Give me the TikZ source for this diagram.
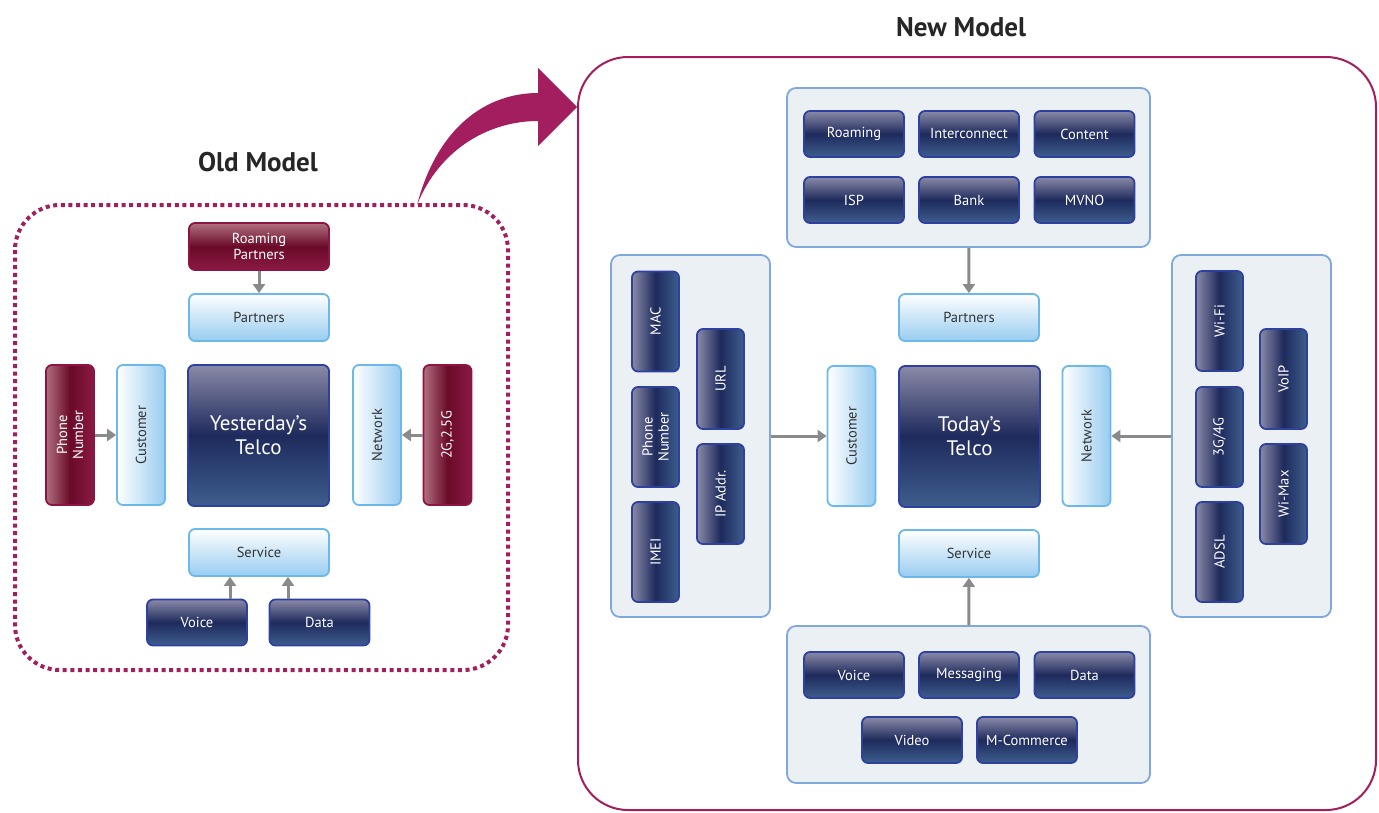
\documentclass[tikz,border=0pt]{standalone}
\usepackage{fontspec}
\setmainfont{PT Sans}
\usetikzlibrary{arrows.meta}

\definecolor{navy}{HTML}{1E2A5C}
\definecolor{navytop}{HTML}{8A8AA8}
\definecolor{navybot}{HTML}{3E5E8E}
\definecolor{navyedge}{HTML}{2E40A0}
\definecolor{wine}{HTML}{6A0A28}
\definecolor{winetop}{HTML}{B07080}
\definecolor{winebot}{HTML}{8A1A44}
\definecolor{wineedge}{HTML}{8E1444}
\definecolor{skyedge}{HTML}{6CB8EA}
\definecolor{skybot}{HTML}{98CCF0}
\definecolor{panelfill}{HTML}{EBF0F5}
\definecolor{paneledge}{HTML}{80A8DA}
\definecolor{plum}{HTML}{A21E5E}
\definecolor{arrgray}{HTML}{8A8A8A}

\begin{document}
\begin{tikzpicture}[x=1pt, y=-1pt,
  label/.style={font=\fontsize{14.5}{16}\selectfont, align=center, inner sep=0pt},
  darkbox/.style={label, draw=navyedge, line width=1.8pt, rounded corners=6pt,
    top color=navytop, bottom color=navybot, middle color=navy, text=white},
  darkside/.style={label, draw=navyedge, line width=1.8pt, rounded corners=6pt,
    left color=navytop, right color=navybot, middle color=navy, text=white},
  winebox/.style={label, draw=wineedge, line width=1.8pt, rounded corners=6pt,
    left color=winetop, right color=winebot, middle color=wine, text=white},
  wineflat/.style={label, draw=wineedge, line width=1.8pt, rounded corners=6pt,
    top color=winetop, bottom color=winebot, middle color=wine, text=white},
  skybox/.style={label, draw=skyedge, line width=1.8pt, rounded corners=6pt,
    top color=white, bottom color=skybot, text=black!80},
  skyside/.style={label, draw=skyedge, line width=1.8pt, rounded corners=6pt,
    left color=white, right color=skybot, text=black!80},
  telco/.style={darkbox, minimum width=141pt, minimum height=141pt,
    font=\fontsize{21}{24}\selectfont},
  panel/.style={draw=paneledge, fill=panelfill, line width=1.8pt, rounded corners=9pt},
  wide/.style={minimum width=140pt, minimum height=47pt},
  small/.style={minimum width=100pt, minimum height=46pt},
  tall/.style={rotate=90, minimum width=140pt, minimum height=48pt},
  slim/.style={rotate=90, minimum width=100pt, minimum height=47pt},
  arr/.style={draw=arrgray, line width=3pt, -{Triangle[length=9pt,width=12pt]}},
  title/.style={font=\fontsize{27}{30}\selectfont\bfseries, text=black!85}]
\useasboundingbox (0,0) rectangle (1379,812);

% Old model
\draw[plum, line width=4pt, dash pattern=on 4pt off 3.6pt, rounded corners=45pt]
  (15,205) rectangle (508,670);
\node[title] (oldtitle) at (258,162) {Old Model};

\node[wineflat, wide] (oldroam) at (259,246.5) {Roaming\\Partners};
\node[skybox, wide] (oldpart) at (259,317.5) {Partners};
\node[winebox, tall] (oldphone) at (70,435) {Phone\\Number};
\node[skyside, tall] (oldcust) at (141,435) {Customer};
\node[telco] (oldtelco) at (258.5,435.5) {Yesterday’s\\Telco};
\node[skyside, tall] (oldnet) at (377,435) {Network};
\node[winebox, tall] (oldgen) at (447.5,435) {2G,2.5G};
\node[skybox, wide] (oldserv) at (259,552.5) {Service};
\node[darkbox, small] (oldvoice) at (197,622.5) {Voice};
\node[darkbox, small] (olddata) at (319.5,622.5) {Data};

\draw[arr] (oldroam) -- (oldpart);
\draw[arr] (oldphone) -- (oldcust);
\draw[arr] (oldgen) -- (oldnet);
\draw[arr] ([xshift=33pt]oldvoice.north) -- ([xshift=33pt]oldvoice.north |- oldserv.south);
\draw[arr] ([xshift=-31.5pt]olddata.north) -- ([xshift=-31.5pt]olddata.north |- oldserv.south);

% Big curved arrow from old to new
\fill[plum] (417,205) .. controls (438,125) and (488,93) .. (538,93) -- (538,68) -- (577,107)
  -- (538,146) -- (538,121) .. controls (490,121) and (440,148) .. (417,205) -- cycle;

% New model
\draw[plum, line width=2pt, rounded corners=50pt] (578,57) rectangle (1376,810);
\node[title] (newtitle) at (961,27) {New Model};

% partners panel
\node[panel, minimum width=363pt, minimum height=159pt] (toppanel) at (968.5,167.5) {};
\node[darkbox, small] (roam) at (854,134) {Roaming};
\node[darkbox, small] (inter) at (969,134) {Interconnect};
\node[darkbox, small] (content) at (1084.5,134) {Content};
\node[darkbox, small] (isp) at (854,200) {ISP};
\node[darkbox, small] (bank) at (969,200) {Bank};
\node[darkbox, small] (mvno) at (1084.5,200) {MVNO};

% customer panel
\node[panel, minimum width=159pt, minimum height=362pt] (leftpanel) at (690.5,436) {};
\node[darkside, slim] (mac) at (655.5,321.5) {MAC};
\node[darkside, slim] (phone) at (655.5,437) {Phone\\Number};
\node[darkside, slim] (imei) at (655.5,552) {IMEI};
\node[darkside, slim] (url) at (720.5,379) {URL};
\node[darkside, slim] (ipaddr) at (720.5,494) {IP Addr.};

% network panel
\node[panel, minimum width=159pt, minimum height=362pt] (rightpanel) at (1251.5,436) {};
\node[darkside, slim] (wifi) at (1219.5,321) {Wi-Fi};
\node[darkside, slim] (mobile) at (1219.5,437) {3G/4G};
\node[darkside, slim] (adsl) at (1219.5,552) {ADSL};
\node[darkside, slim] (voip) at (1283.5,379) {VoIP};
\node[darkside, slim] (wimax) at (1283.5,494) {Wi-Max};

% service panel
\node[panel, minimum width=363pt, minimum height=157pt] (botpanel) at (968.5,704.5) {};
\node[darkbox, small] (voice) at (854,675) {Voice};
\node[darkbox, small] (msg) at (969,675) {Messaging};
\node[darkbox, small] (data) at (1084.5,675) {Data};
\node[darkbox, small] (video) at (912,740) {Video};
\node[darkbox, small] (mcomm) at (1027,740) {M-Commerce};

% centre
\node[skybox, wide] (newpart) at (969,317.5) {Partners};
\node[skyside, tall] (newcust) at (851.5,436) {Customer};
\node[telco] (newtelco) at (969.5,436.5) {Today’s\\Telco};
\node[skyside, tall] (newnet) at (1086.5,436) {Network};
\node[skybox, wide] (newserv) at (969,553.5) {Service};

\draw[arr] (toppanel) -- (newpart);
\draw[arr] (botpanel) -- (newserv);
\draw[arr] (leftpanel) -- (newcust);
\draw[arr] (rightpanel) -- (newnet);
\end{tikzpicture}
\end{document}
